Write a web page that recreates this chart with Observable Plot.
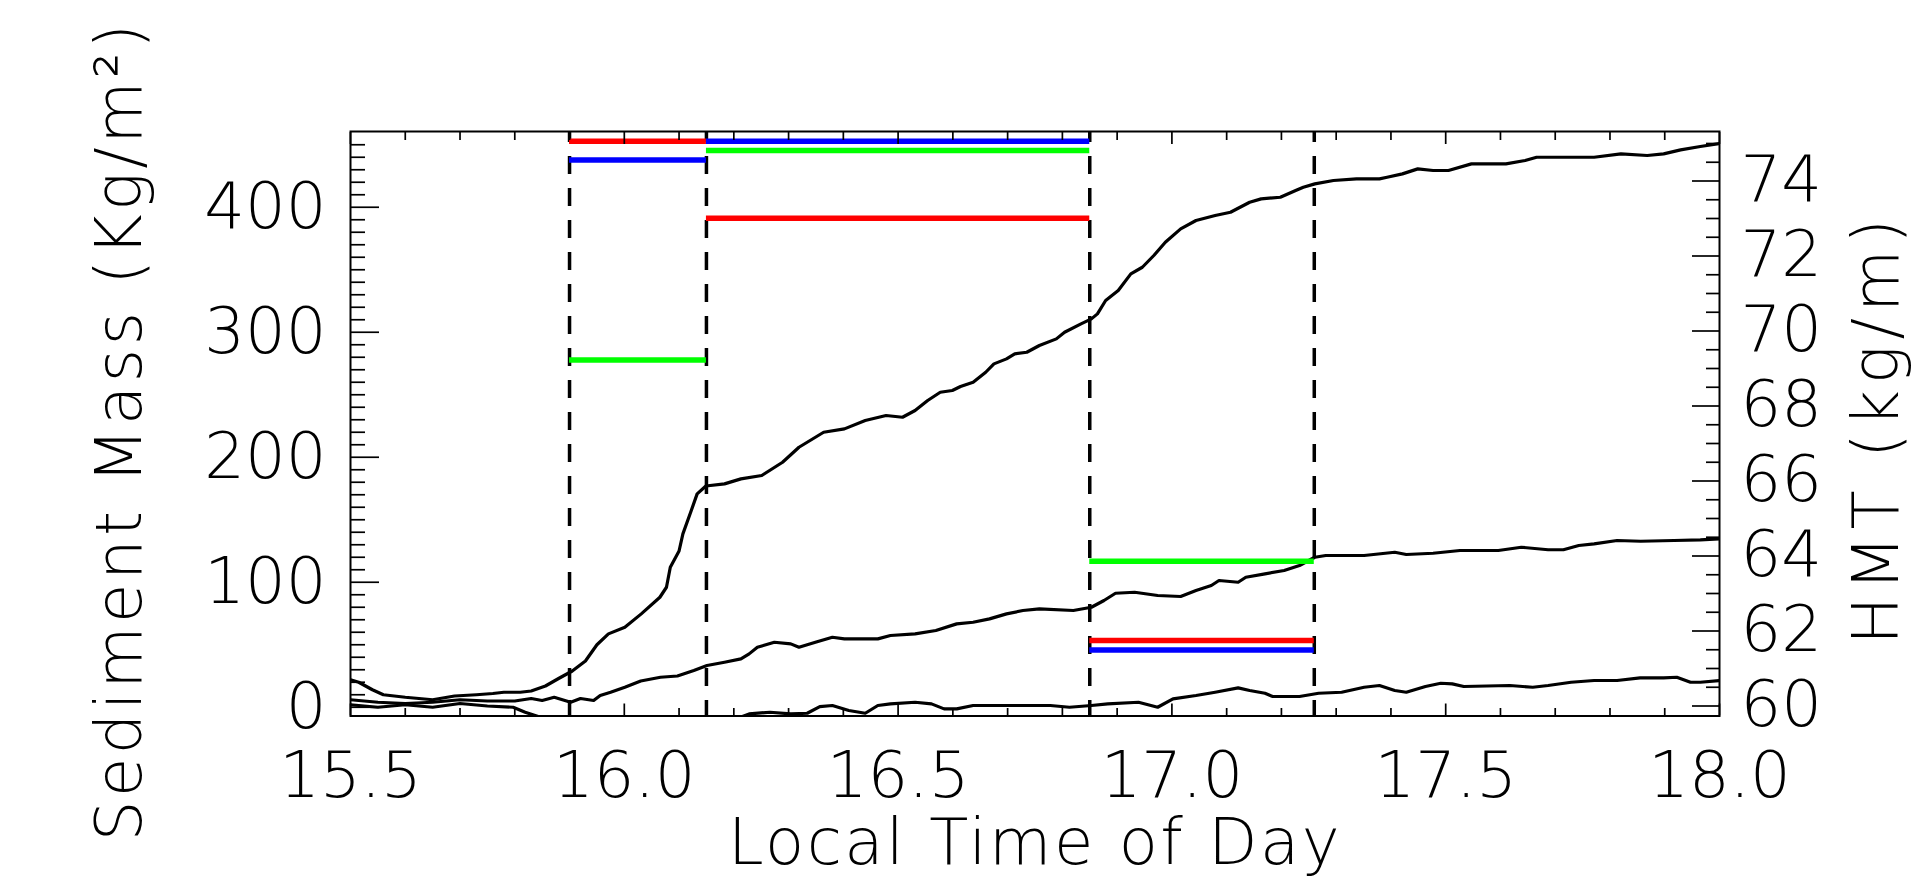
<!DOCTYPE html>
<html>
<head>
<meta charset="utf-8">
<script src="https://cdn.jsdelivr.net/npm/d3@7"></script>
<script src="https://cdn.jsdelivr.net/npm/@observablehq/plot@0.6"></script>
<style>
html, body { margin: 0; padding: 0; background: #fff; }
#chart { width: 1920px; height: 879px; }
</style>
</head>
<body>
<div id="chart"></div>
<script>
// ---- Data ----
// Black curves (local time of day in hours, sediment mass in kg/m^2)
const tA = [15.50,15.515,15.54,15.56,15.60,15.65,15.69,15.73,15.76,15.78,15.81,15.83,15.856,15.88,15.905,15.929,15.95,15.971,16.001,16.031,16.065,16.077,16.084,16.10,16.107,16.122,16.133,16.149,16.183,16.213,16.251,16.289,16.319,16.364,16.402,16.44,16.478,16.508,16.531,16.554,16.577,16.599,16.614,16.637,16.66,16.675,16.698,16.713,16.735,16.758,16.789,16.804,16.834,16.853,16.864,16.879,16.902,16.925,16.946,16.967,16.988,17.016,17.044,17.079,17.107,17.142,17.163,17.198,17.226,17.24,17.261,17.295,17.337,17.379,17.393,17.421,17.449,17.477,17.505,17.547,17.61,17.645,17.666,17.771,17.82,17.868,17.898,17.929,17.965,18.0];
const vA = [22,20,14,10,8,6,9,10,11,12,12,13,17,23,29,37,50,58.7,64,74.7,88,96,112,125,138.7,157,170.7,177,178.7,182.7,185.4,196,208,220,222.7,229.4,233.4,232,237.4,245.4,252,253.4,256.6,260,268,274.7,278.7,282.7,284,289.4,294.7,300,306.7,310.7,314.7,325.4,333.4,346.7,352,361.4,372,382.7,389.4,393.4,396,404,406.7,408,413.4,416,418.7,421.4,422.7,422.7,424,426.7,430.7,429.4,429.4,434.7,434.7,437.4,440,440,442.7,441.4,442.7,445.9,448.6,451];

const tB = [15.50,15.55,15.60,15.65,15.70,15.75,15.80,15.83,15.85,15.872,15.902,15.92,15.944,15.956,15.975,16.001,16.03,16.066,16.097,16.127,16.151,16.183,16.213,16.228,16.243,16.274,16.304,16.319,16.349,16.38,16.402,16.463,16.486,16.531,16.569,16.607,16.637,16.667,16.698,16.728,16.758,16.82,16.853,16.876,16.897,16.932,16.974,17.016,17.044,17.072,17.086,17.121,17.135,17.17,17.205,17.233,17.261,17.281,17.351,17.407,17.428,17.477,17.526,17.596,17.638,17.687,17.715,17.743,17.771,17.813,17.856,17.917,17.965,18.0];
const vB = [6,4,3,4,6,5,5,7,5.4,8,4,7,5.4,9.4,12,16,21,24,25,29.4,33.4,36,38.7,42.7,48,52,50.7,48,52,56,54.7,54.7,57.4,58.7,61.4,66.7,68,70.7,74.7,77.4,78.7,77.4,80,85.4,91.2,92,89.4,88.6,93.4,97.4,101.4,100,104,106.7,109.4,113.4,120,121.4,121.4,124,122.2,123.2,125.4,125.4,128,126,126,129.4,130.7,133.4,132.8,133.4,133.9,134.7];

const tC = [15.50,15.55,15.60,15.65,15.70,15.75,15.797,15.819,15.84,15.86,16.0,16.2,16.228,16.266,16.304,16.334,16.357,16.38,16.41,16.44,16.463,16.486,16.531,16.561,16.584,16.607,16.637,16.698,16.778,16.813,16.853,16.883,16.939,16.974,17.002,17.044,17.079,17.121,17.142,17.17,17.184,17.233,17.268,17.31,17.351,17.379,17.407,17.428,17.463,17.491,17.512,17.533,17.617,17.659,17.687,17.729,17.771,17.813,17.855,17.898,17.922,17.947,17.965,18.0];
const vC = [2,0,2,0,3,1,0,-4,-7,-10,-14,-10,-5.3,-4,-5.3,-4.8,0.5,1.4,-2.6,-4.8,1.4,2.7,4,2.7,-1.3,-1.3,1.4,1.4,1.4,0,1.4,2.7,4,0,6.7,9.4,12,15.5,13.4,11.2,8.6,8.6,11.2,12,16,17.4,13.4,12,16.6,19.2,18.7,16.6,17.4,16,17.4,20,21.4,21.4,23.5,23.5,24,20,20,21.4];

// Period boundaries (dashed lines)
const boundaries = [15.90, 16.15, 16.85, 17.26];

// Coloured period levels
const seriesNames = ["Series R", "Series B", "Series G"];
const segStart  = [15.90, 15.90, 15.90, 16.15, 16.15, 16.15, 16.85, 16.85, 16.85];
const segEnd    = [16.15, 16.15, 16.15, 16.85, 16.85, 16.85, 17.26, 17.26, 17.26];
const segMass   = [452.8, 437.9, 277.9, 452.8, 445.4, 391.2, 116.8, 53.4, 45.9];
const segSeries = ["Series R", "Series B", "Series G", "Series B", "Series G", "Series R", "Series G", "Series R", "Series B"];

// Tick values
const xMajor = [15.5, 16.0, 16.5, 17.0, 17.5, 18.0];
const xMinor = d3.range(155, 181).map(d => d / 10).filter(d => !xMajor.includes(d));
const yMajor = [0, 100, 200, 300, 400];
const yMinor = d3.range(0, 46).map(d => d * 10).filter(d => !yMajor.includes(d));
const hmtMajor = [60, 62, 64, 66, 68, 70, 72, 74];
const hmtMinor = d3.range(120, 151).map(d => d / 2).filter(d => !hmtMajor.includes(d));

// Axis titles
const xTitle = "Local Time of Day";
const yTitle = "Sediment Mass (Kg/m²)";
const y2Title = "HMT (kg/m)";

// HMT (right axis) expressed in left-axis units
const hmtToMass = h => 1 + 30 * (h - 60);
const massToHmt = m => Math.round((m - 1) / 30 + 60);

// ---- Tables ----
const lineA = tA.map((t, i) => ({t, v: vA[i]}));
const lineB = tB.map((t, i) => ({t, v: vB[i]}));
const lineC = tC.map((t, i) => ({t, v: vC[i]}));
const segs = segStart.map((s, i) => ({s, e: segEnd[i], v: segMass[i], k: segSeries[i]}));

const W = 1920, H = 879;
const tickW = 1.7;

const chart = Plot.plot({
  width: W,
  height: H,
  marginLeft: 350,
  marginRight: 201,
  marginTop: 131,
  marginBottom: 163.5,
  x: {domain: [15.5, 18.0], axis: null},
  y: {domain: [-7, 460.6], axis: null},
  color: {type: "ordinal", domain: seriesNames, range: ["#ff0000", "#0000ff", "#00ff00"]},
  style: {fontFamily: "'DejaVu Sans', sans-serif", fontSize: "64px", background: "#ffffff", color: "#000"},
  marks: [
    Plot.ruleX(boundaries, {stroke: "#000", strokeWidth: 3.5, strokeDasharray: "18,14", strokeDashoffset: 7}),
    Plot.line(lineA, {x: "t", y: "v", stroke: "#000", strokeWidth: 3.2, clip: true}),
    Plot.line(lineB, {x: "t", y: "v", stroke: "#000", strokeWidth: 3.2, clip: true}),
    Plot.line(lineC, {x: "t", y: "v", stroke: "#000", strokeWidth: 3.2, clip: true}),
    Plot.ruleY(segs, {x1: "s", x2: "e", y: "v", stroke: "k", strokeWidth: 5.5}),
    // bottom x axis
    Plot.axisX(xMinor, {anchor: "bottom", tickSize: -7.5, strokeWidth: tickW, tickFormat: () => "", label: null}),
    Plot.axisX(xMajor, {anchor: "bottom", tickSize: -12, strokeWidth: tickW, tickFormat: () => "", label: null}),
    Plot.axisX(xMajor, {anchor: "bottom", tickSize: 0, tickPadding: 36, tickFormat: d => d.toFixed(1), label: null}),
    // top x axis (ticks only)
    Plot.axisX(xMinor, {anchor: "top", tickSize: -8, strokeWidth: tickW, tickFormat: () => "", label: null}),
    Plot.axisX(xMajor, {anchor: "top", tickSize: -12, strokeWidth: tickW, tickFormat: () => "", label: null}),
    // left y axis
    Plot.axisY(yMinor, {anchor: "left", tickSize: -15, strokeWidth: tickW, tickFormat: () => "", label: null}),
    Plot.axisY(yMajor, {anchor: "left", tickSize: -29, strokeWidth: tickW, tickFormat: () => "", label: null}),
    Plot.axisY(yMajor, {anchor: "left", tickSize: 0, tickPadding: 24, tickFormat: d => String(d), label: null}),
    // right y axis (HMT)
    Plot.axisY(hmtMinor.map(hmtToMass), {anchor: "right", tickSize: -14, strokeWidth: tickW, tickFormat: () => "", label: null}),
    Plot.axisY(hmtMajor.map(hmtToMass), {anchor: "right", tickSize: -28, strokeWidth: tickW, tickFormat: () => "", label: null}),
    Plot.axisY(hmtMajor.map(hmtToMass), {anchor: "right", tickSize: 0, tickPadding: 21, tickFormat: massToHmt, label: null}),
    Plot.frame({stroke: "#000", strokeWidth: 2}),
    // axis titles
    Plot.text([xTitle], {frameAnchor: "bottom", textAnchor: "middle", dy: 148, lineAnchor: "bottom", fontSize: 64}),
    Plot.text([yTitle], {frameAnchor: "left", textAnchor: "middle", rotate: -90, dx: -210, dy: 7, lineAnchor: "bottom", fontSize: 64}),
    Plot.text([y2Title], {frameAnchor: "right", textAnchor: "middle", rotate: -90, dx: 178, dy: 5, lineAnchor: "bottom", fontSize: 64})
  ]
});

const titleSpacing = new Map([[xTitle, "2.5px"], [yTitle, "3.5px"], [y2Title, "6px"]]);
d3.select(chart).selectAll("text").style("font-weight", "200");
d3.select(chart).selectAll("text")
  .filter(function() { return titleSpacing.has(this.textContent); })
  .style("letter-spacing", function() { return titleSpacing.get(this.textContent); });
document.getElementById("chart").appendChild(chart);
</script>
</body>
</html>
